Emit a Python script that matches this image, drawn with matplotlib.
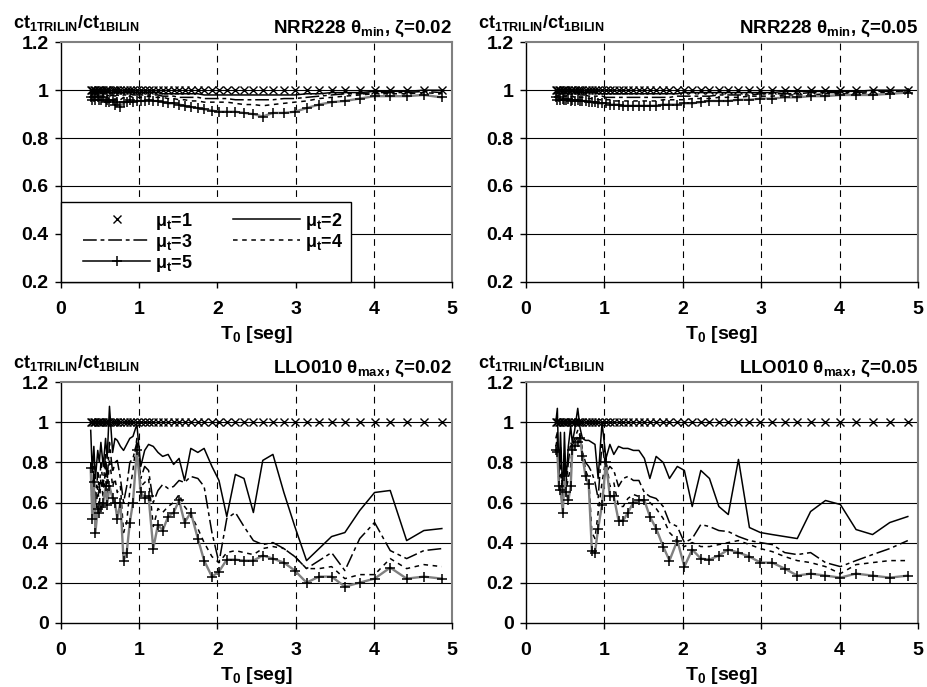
import matplotlib
matplotlib.use("Agg")
import matplotlib.pyplot as plt
from matplotlib.lines import Line2D
from matplotlib.legend_handler import HandlerLine2D
from matplotlib.ticker import FuncFormatter

plt.rcParams['font.family'] = ['Liberation Sans', 'DejaVu Sans']
plt.rcParams['font.weight'] = 'bold'
plt.rcParams['mathtext.fontset'] = 'custom'
plt.rcParams['mathtext.rm'] = 'Liberation Sans:bold'
plt.rcParams['mathtext.it'] = 'Liberation Sans:bold'
plt.rcParams['mathtext.bf'] = 'Liberation Sans:bold'
plt.rcParams['mathtext.sf'] = 'Liberation Sans:bold'
plt.rcParams['mathtext.default'] = 'rm'

# periods T0 [seg]
T = [0.38, 0.40, 0.42, 0.44, 0.47, 0.49, 0.51, 0.54, 0.57, 0.59,
     0.62, 0.66, 0.69, 0.72, 0.76, 0.80, 0.84, 0.88, 0.92, 0.97,
     1.02, 1.07, 1.12, 1.18, 1.24, 1.30, 1.37, 1.44, 1.51, 1.58,
     1.66, 1.75, 1.83, 1.93, 2.02, 2.12, 2.23, 2.34, 2.46, 2.58,
     2.71, 2.85, 2.99, 3.14, 3.30, 3.46, 3.63, 3.82, 4.01, 4.21,
     4.42, 4.64, 4.87]

mu1 = [1.0, 1.0, 1.0, 1.0, 1.0, 1.0, 1.0, 1.0, 1.0, 1.0,
       1.0, 1.0, 1.0, 1.0, 1.0, 1.0, 1.0, 1.0, 1.0, 1.0,
       1.0, 1.0, 1.0, 1.0, 1.0, 1.0, 1.0, 1.0, 1.0, 1.0,
       1.0, 1.0, 1.0, 1.0, 1.0, 1.0, 1.0, 1.0, 1.0, 1.0,
       1.0, 1.0, 1.0, 1.0, 1.0, 1.0, 1.0, 1.0, 1.0, 1.0,
       1.0, 1.0, 1.0]

# NRR228 theta_min, zeta=0.02
nrr02_mu2 = [1.0, 0.99, 1.0, 0.99, 0.995, 0.99, 0.99, 0.995, 0.99, 0.99,
             0.99, 0.99, 0.99, 0.99, 0.99, 0.99, 0.99, 0.99, 0.99, 0.99,
             0.99, 0.99, 0.99, 0.99, 0.99, 0.985, 0.985, 0.985, 0.985, 0.985,
             0.985, 0.985, 0.98, 0.98, 0.98, 0.98, 0.98, 0.98, 0.98, 0.98,
             0.98, 0.98, 0.98, 0.985, 0.985, 0.99, 0.99, 0.99, 0.995, 0.995,
             0.995, 1.0, 1.0]
nrr02_mu3 = [0.99, 0.98, 0.99, 0.98, 0.99, 0.98, 0.98, 0.99, 0.975, 0.98,
             0.975, 0.98, 0.975, 0.98, 0.975, 0.98, 0.98, 0.985, 0.98, 0.98,
             0.98, 0.98, 0.98, 0.98, 0.98, 0.975, 0.975, 0.975, 0.97, 0.97,
             0.97, 0.97, 0.965, 0.965, 0.965, 0.965, 0.96, 0.96, 0.96, 0.96,
             0.96, 0.965, 0.965, 0.97, 0.975, 0.98, 0.985, 0.985, 0.99, 0.99,
             0.99, 0.995, 0.99]
nrr02_mu4 = [0.98, 0.97, 0.98, 0.97, 0.98, 0.97, 0.97, 0.98, 0.96, 0.97,
             0.96, 0.97, 0.96, 0.97, 0.96, 0.97, 0.97, 0.975, 0.97, 0.97,
             0.97, 0.97, 0.975, 0.97, 0.97, 0.97, 0.965, 0.965, 0.96, 0.96,
             0.955, 0.955, 0.95, 0.95, 0.95, 0.95, 0.945, 0.94, 0.94, 0.935,
             0.94, 0.945, 0.95, 0.955, 0.965, 0.97, 0.975, 0.98, 0.985, 0.985,
             0.985, 0.99, 0.985]
nrr02_mu5 = [0.97, 0.96, 0.97, 0.96, 0.97, 0.96, 0.96, 0.97, 0.95, 0.96,
             0.95, 0.96, 0.94, 0.95, 0.93, 0.95, 0.95, 0.96, 0.95, 0.955,
             0.955, 0.955, 0.96, 0.955, 0.955, 0.95, 0.945, 0.945, 0.94, 0.935,
             0.93, 0.925, 0.92, 0.915, 0.91, 0.91, 0.91, 0.905, 0.90, 0.89,
             0.905, 0.905, 0.91, 0.925, 0.94, 0.95, 0.955, 0.965, 0.975, 0.975,
             0.975, 0.98, 0.97]

# NRR228 theta_min, zeta=0.05
nrr05_mu2 = [1.0, 0.995, 1.0, 0.995, 1.0, 0.995, 0.995, 1.0, 0.99, 0.995,
             0.99, 0.99, 0.99, 0.99, 0.99, 0.99, 0.99, 0.99, 0.985, 0.985,
             0.985, 0.985, 0.985, 0.985, 0.985, 0.985, 0.985, 0.985, 0.985, 0.985,
             0.985, 0.985, 0.985, 0.985, 0.99, 0.99, 0.99, 0.99, 0.99, 0.99,
             0.99, 0.99, 0.99, 0.99, 0.995, 0.995, 0.995, 0.995, 0.995, 0.995,
             1.0, 1.0, 1.0]
nrr05_mu3 = [0.99, 0.985, 0.99, 0.985, 0.99, 0.985, 0.985, 0.99, 0.98, 0.985,
             0.98, 0.985, 0.98, 0.98, 0.98, 0.975, 0.975, 0.975, 0.975, 0.975,
             0.97, 0.97, 0.97, 0.97, 0.97, 0.97, 0.97, 0.97, 0.97, 0.97,
             0.97, 0.97, 0.97, 0.975, 0.975, 0.975, 0.975, 0.975, 0.98, 0.98,
             0.98, 0.98, 0.985, 0.985, 0.985, 0.985, 0.99, 0.99, 0.99, 0.99,
             0.995, 0.995, 0.995]
nrr05_mu4 = [0.98, 0.975, 0.98, 0.975, 0.98, 0.975, 0.975, 0.98, 0.97, 0.975,
             0.97, 0.975, 0.97, 0.97, 0.97, 0.965, 0.965, 0.965, 0.96, 0.96,
             0.96, 0.96, 0.955, 0.955, 0.955, 0.955, 0.955, 0.955, 0.955, 0.955,
             0.955, 0.96, 0.96, 0.96, 0.96, 0.965, 0.965, 0.965, 0.97, 0.97,
             0.97, 0.975, 0.975, 0.975, 0.98, 0.98, 0.98, 0.985, 0.985, 0.985,
             0.99, 0.99, 0.995]
nrr05_mu5 = [0.97, 0.96, 0.97, 0.96, 0.965, 0.96, 0.96, 0.965, 0.955, 0.96,
             0.955, 0.96, 0.955, 0.955, 0.955, 0.95, 0.95, 0.95, 0.945, 0.945,
             0.945, 0.94, 0.94, 0.94, 0.935, 0.935, 0.935, 0.935, 0.935, 0.935,
             0.935, 0.94, 0.94, 0.94, 0.945, 0.945, 0.95, 0.955, 0.955, 0.955,
             0.96, 0.96, 0.965, 0.965, 0.97, 0.97, 0.975, 0.975, 0.98, 0.98,
             0.98, 0.985, 0.99]

# LLO010 theta_max, zeta=0.02
llo02_mu2 = [0.96, 0.75, 0.88, 0.72, 0.86, 0.80, 0.90, 0.78, 0.92, 0.82,
             1.08, 0.85, 0.92, 0.91, 0.88, 0.86, 0.89, 0.92, 0.93, 0.99,
             0.78, 0.86, 0.89, 0.88, 0.85, 0.83, 0.84, 0.79, 0.82, 0.71,
             0.87, 0.85, 0.87, 0.78, 0.71, 0.53, 0.74, 0.72, 0.55, 0.81,
             0.84, 0.65, 0.48, 0.31, 0.37, 0.43, 0.45, 0.56, 0.65, 0.66,
             0.41, 0.46, 0.47]
llo02_mu3 = [0.80, 0.62, 0.78, 0.60, 0.75, 0.65, 0.80, 0.68, 0.85, 0.70,
             0.90, 0.75, 0.80, 0.81, 0.72, 0.60, 0.68, 0.80, 0.82, 0.90,
             0.72, 0.78, 0.76, 0.60, 0.66, 0.69, 0.67, 0.68, 0.71, 0.70,
             0.73, 0.72, 0.68, 0.45, 0.30, 0.52, 0.55, 0.48, 0.41, 0.39,
             0.40, 0.37, 0.33, 0.27, 0.31, 0.35, 0.26, 0.42, 0.50, 0.36,
             0.32, 0.36, 0.37]
llo02_mu4 = [0.78, 0.55, 0.74, 0.50, 0.68, 0.58, 0.72, 0.62, 0.78, 0.63,
             0.82, 0.68, 0.72, 0.65, 0.68, 0.45, 0.50, 0.66, 0.76, 0.92,
             0.68, 0.70, 0.72, 0.48, 0.57, 0.55, 0.58, 0.60, 0.64, 0.58,
             0.54, 0.47, 0.40, 0.33, 0.30, 0.35, 0.36, 0.35, 0.34, 0.37,
             0.38, 0.37, 0.33, 0.27, 0.27, 0.28, 0.22, 0.24, 0.24, 0.32,
             0.27, 0.29, 0.28]
llo02_mu5 = [0.77, 0.52, 0.70, 0.45, 0.57, 0.55, 0.58, 0.60, 0.68, 0.59,
             0.68, 0.62, 0.60, 0.52, 0.60, 0.31, 0.35, 0.50, 0.60, 0.86,
             0.65, 0.62, 0.63, 0.37, 0.49, 0.46, 0.53, 0.55, 0.61, 0.50,
             0.55, 0.42, 0.31, 0.23, 0.255, 0.315, 0.315, 0.31, 0.31, 0.335,
             0.32, 0.30, 0.26, 0.20, 0.23, 0.23, 0.18, 0.20, 0.22, 0.275,
             0.22, 0.23, 0.22]

# LLO010 theta_max, zeta=0.05
llo05_mu2 = [1.00, 1.07, 0.72, 0.95, 0.62, 0.95, 0.70, 0.88, 0.98, 0.90,
             0.96, 1.07, 0.97, 0.92, 0.91, 0.91, 0.90, 0.89, 0.72, 1.00,
             0.82, 0.89, 0.84, 0.88, 0.87, 0.87, 0.86, 0.86, 0.82, 0.72,
             0.83, 0.80, 0.72, 0.78, 0.76, 0.58, 0.76, 0.72, 0.58, 0.54,
             0.815, 0.475, 0.45, 0.44, 0.43, 0.42, 0.555, 0.61, 0.59, 0.465,
             0.44, 0.50, 0.53]
llo05_mu3 = [0.92, 0.95, 0.70, 0.88, 0.60, 0.85, 0.68, 0.80, 0.90, 0.88,
             0.92, 0.96, 0.93, 0.85, 0.80, 0.78, 0.75, 0.70, 0.62, 0.90,
             0.75, 0.78, 0.76, 0.68, 0.72, 0.73, 0.71, 0.71, 0.65, 0.63,
             0.62, 0.58, 0.50, 0.48, 0.40, 0.42, 0.49, 0.48, 0.46, 0.455,
             0.43, 0.41, 0.40, 0.39, 0.35, 0.34, 0.35, 0.30, 0.28, 0.31,
             0.34, 0.37, 0.41]
llo05_mu4 = [0.88, 0.92, 0.68, 0.80, 0.58, 0.80, 0.66, 0.72, 0.78, 0.88,
             0.90, 0.93, 0.94, 0.86, 0.76, 0.72, 0.45, 0.42, 0.55, 0.70,
             0.82, 0.68, 0.70, 0.58, 0.58, 0.62, 0.64, 0.63, 0.60, 0.60,
             0.57, 0.52, 0.45, 0.41, 0.38, 0.40, 0.38, 0.38, 0.39, 0.40,
             0.41, 0.39, 0.37, 0.355, 0.33, 0.31, 0.30, 0.28, 0.245, 0.29,
             0.30, 0.31, 0.31]
llo05_mu5 = [0.86, 0.85, 0.68, 0.66, 0.55, 0.73, 0.65, 0.61, 0.68, 0.86,
             0.88, 0.90, 0.92, 0.83, 0.73, 0.69, 0.36, 0.35, 0.47, 0.59,
             0.80, 0.63, 0.63, 0.51, 0.51, 0.55, 0.60, 0.61, 0.61, 0.53,
             0.47, 0.38, 0.31, 0.41, 0.28, 0.365, 0.32, 0.315, 0.335, 0.365,
             0.35, 0.33, 0.30, 0.30, 0.27, 0.235, 0.245, 0.235, 0.225, 0.245,
             0.235, 0.225, 0.235]

titles = ["NRR228 $θ_{min}$, ζ=0.02", "NRR228 $θ_{min}$, ζ=0.05",
          "LLO010 $θ_{max}$, ζ=0.02", "LLO010 $θ_{max}$, ζ=0.05"]
ylabel = "ct$_{1TRILIN}$/ct$_{1BILIN}$"
xlabel = "T$_{0}$ [seg]"

W, H = 927, 687
fig = plt.figure(figsize=(W / 100, H / 100), dpi=100)

# axes boxes in pixels: left, top, right, bottom
boxes = [(61, 42.3, 452, 281.7), (526, 42.3, 918, 281.7),
         (61, 382.3, 452, 622.7), (526, 382.3, 918, 622.7)]
series = [(nrr02_mu2, nrr02_mu3, nrr02_mu4, nrr02_mu5),
          (nrr05_mu2, nrr05_mu3, nrr05_mu4, nrr05_mu5),
          (llo02_mu2, llo02_mu3, llo02_mu4, llo02_mu5),
          (llo05_mu2, llo05_mu3, llo05_mu4, llo05_mu5)]
ymins = [0.2, 0.2, 0.0, 0.0]

dashdot = (0, (9, 2.5, 2.5, 2.5))
dotted = (0, (3, 3))

for i, (l, t, r, b) in enumerate(boxes):
    ax = fig.add_axes([l / W, 1 - b / H, (r - l) / W, (b - t) / H])
    mu2, mu3, mu4, mu5 = series[i]
    ymin = ymins[i]
    yt = [round(ymin + 0.2 * k, 1) for k in range(int(round((1.2 - ymin) / 0.2)) + 1)]

    for y in yt[1:-1]:
        ax.axhline(y, color='black', lw=0.8, zorder=1)
    for x in [1, 2, 3, 4]:
        ax.axvline(x, color='black', lw=0.8, ls=(0, (6, 5)), zorder=1)

    ax.plot(T, mu2, color='black', lw=1.1, zorder=3)
    ax.plot(T, mu3, color='black', lw=1.1, ls=dashdot, zorder=3)
    ax.plot(T, mu4, color='black', lw=1.1, ls=dotted, zorder=3)
    ax.plot(T, mu5, color='#808080', lw=1.7, marker='+', ms=7, mec='black',
            mew=1.1, zorder=4)
    ax.plot(T, mu1, ls='none', marker='x', ms=6, mec='black', mew=1, zorder=5)

    ax.set_xlim(0, 5)
    ax.set_ylim(ymin, 1.2)
    ax.set_xticks([0, 1, 2, 3, 4, 5])
    ax.set_yticks(yt)
    ax.yaxis.set_major_formatter(FuncFormatter(lambda v, p: f"{v:g}"))
    ax.tick_params(axis='both', direction='out', length=4, width=1,
                   labelsize=14)
    ax.tick_params(axis='x', pad=10)
    ax.tick_params(axis='y', pad=5)
    for s in ['top', 'right']:
        ax.spines[s].set_color('#808080')
        ax.spines[s].set_linewidth(1.5)
    for s in ['left', 'bottom']:
        ax.spines[s].set_color('black')
        ax.spines[s].set_linewidth(1)

    h = b - t
    ax.text(1.0, 1 + 9 / h, titles[i], transform=ax.transAxes, ha='right',
            va='baseline', fontsize=13.5, fontweight='bold')
    ax.text(0.5, -57 / h, xlabel, transform=ax.transAxes, ha='center',
            va='baseline', fontsize=14, fontweight='bold')
    fig.text((l - 48) / W, 1 - (t - 14) / H, ylabel, ha='left',
             va='baseline', fontsize=13, fontweight='bold')

    if i == 0:
        handles = [
            Line2D([], [], ls='none', marker='x', ms=6, mec='black', mew=1),
            Line2D([], [], color='black', lw=1.1, ls=dashdot),
            Line2D([], [], color='black', lw=1.1, marker='+', ms=7, mew=1.1),
            Line2D([], [], color='black', lw=1.1),
            Line2D([], [], color='black', lw=1.1, ls=dotted),
        ]
        labels = ["μ$_t$=1", "μ$_t$=3", "μ$_t$=5", "μ$_t$=2", "μ$_t$=4"]
        leg = ax.legend(handles, labels, ncol=2, loc='lower left',
                        bbox_to_anchor=(0, 0), borderaxespad=0,
                        fontsize=13, handlelength=4.5, handletextpad=0.28,
                        columnspacing=1.4, labelspacing=0.0, borderpad=0.45,
                        fancybox=False, framealpha=1, edgecolor='black',
                        handler_map={Line2D: HandlerLine2D(xpad=0.78)})
        leg.get_frame().set_linewidth(1)
        leg.set_zorder(10)

fig.savefig("out.png", dpi=100)
